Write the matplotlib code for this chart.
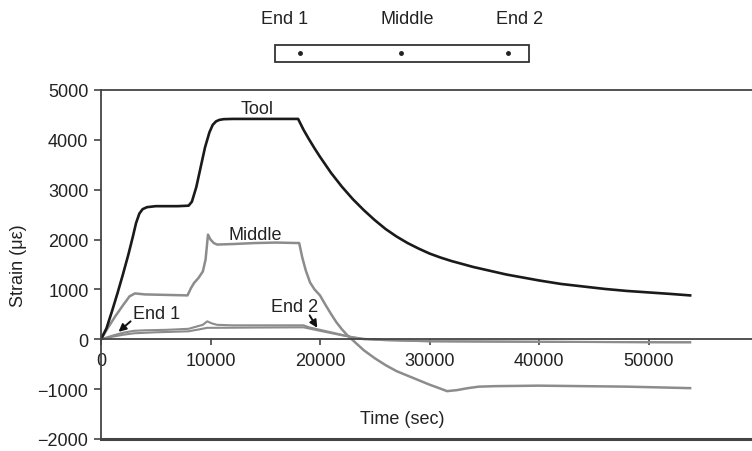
import matplotlib
matplotlib.use("Agg")
import matplotlib.pyplot as plt
from matplotlib.patches import Rectangle

plt.rcParams['font.family'] = ['Liberation Sans', 'DejaVu Sans']

# ---- data (time in sec, strain in micro-strain) ----
tool_t = [0, 500, 1000, 1500, 2000, 2500, 2900, 3200, 3500, 3800, 4200, 5000, 6000, 7000,
          8000, 8300, 8700, 9100, 9500, 9900, 10200, 10500, 10800, 11200, 12000, 14000,
          16000, 18000, 18500, 19000, 19500, 20000, 21000, 22000, 23000, 24000, 25000,
          26000, 27000, 28000, 29000, 30000, 31000, 32000, 33000, 34000, 35000, 36000,
          37000, 38000, 39000, 40000, 42000, 44000, 46000, 48000, 50000, 52000, 53800]
tool_s = [0, 220, 560, 920, 1300, 1700, 2050, 2330, 2520, 2610, 2650, 2670, 2670, 2670,
          2680, 2760, 3050, 3450, 3850, 4150, 4300, 4370, 4400, 4415, 4420, 4420,
          4420, 4420, 4200, 4010, 3830, 3660, 3340, 3060, 2810, 2590, 2390,
          2210, 2060, 1930, 1820, 1720, 1640, 1570, 1510, 1450, 1400, 1350,
          1300, 1260, 1220, 1180, 1110, 1060, 1010, 970, 940, 910, 880]

middle_t = [0, 600, 1300, 2000, 2600, 3100, 4000, 6000, 7900, 8200, 8500, 8900, 9300,
            9550, 9770, 10000, 10300, 10600, 12000, 14000, 16000, 18100, 18370, 18700,
            19090, 19500, 20000, 20500, 21000, 21500, 22000, 22500, 23000, 24000, 25000,
            26000, 27000, 28000, 29000, 30000, 31000, 31600, 32500, 33500, 34500, 36000,
            40000, 44000, 48000, 50000, 53800]
middle_s = [0, 220, 460, 680, 860, 920, 900, 890, 880, 1020, 1130, 1230, 1360,
            1600, 2100, 2000, 1930, 1900, 1910, 1930, 1940, 1930, 1650, 1380,
            1140, 1000, 880, 690, 510, 340, 200, 80, -20, -220, -380,
            -520, -640, -730, -820, -910, -990, -1040, -1020, -980, -950, -940,
            -930, -940, -950, -960, -980]

end1_t = [0, 1000, 2000, 3000, 5000, 8000, 9000, 9700, 10500, 14000, 18500, 20000,
          22000, 24000, 30000, 40000, 53800]
end1_s = [0, 50, 90, 120, 140, 160, 200, 230, 230, 235, 240, 170,
          80, 0, -40, -50, -60]

end2_t = [0, 1000, 2000, 3000, 4000, 6000, 8000, 8800, 9300, 9700, 10100, 10600, 12000,
          16000, 18500, 19000, 20000, 21000, 22000, 23000, 24000, 26000, 30000, 40000,
          50000, 53800]
end2_s = [0, 70, 130, 170, 180, 190, 210, 260, 290, 360, 320, 290, 280,
          280, 280, 240, 190, 140, 90, 40, 10, -20, -40, -50, -60, -60]

x_ticks = [0, 10000, 20000, 30000, 40000, 50000]
y_ticks = [-2000, -1000, 0, 1000, 2000, 3000, 4000, 5000]

dark = '#1a1a1a'
gray = '#8c8c8c'
axis_col = '#444444'
txt = '#222222'

fig = plt.figure(figsize=(7.52, 4.52), dpi=100)
ax = fig.add_axes([101 / 752, 1 - 440 / 452, 1 - 101 / 752, 349 / 452])

ax.plot(end1_t, end1_s, color=gray, lw=1.5)
ax.plot(end2_t, end2_s, color=gray, lw=1.5)
ax.plot(middle_t, middle_s, color=gray, lw=1.8)
ax.plot(tool_t, tool_s, color=dark, lw=1.9)

ax.set_xlim(0, 59450)
ax.set_ylim(-2000, 5000)
ax.set_xticks(x_ticks)
ax.set_yticks(y_ticks)
ax.set_yticklabels([str(v).replace('-', '\u2212') for v in y_ticks])

ax.spines['right'].set_visible(False)
ax.spines['bottom'].set_position(('data', 0))
for s in ['left', 'top', 'bottom']:
    ax.spines[s].set_color(axis_col)
    ax.spines[s].set_linewidth(1.3)
ax.axhline(-2000, color=axis_col, lw=2.2, clip_on=False)

ax.tick_params(axis='both', colors=axis_col, labelcolor=txt, labelsize=13, width=1.2)
ax.tick_params(axis='y', length=5, pad=4)
ax.tick_params(axis='x', length=4, pad=5)

ax.set_ylabel('Strain (\u03bc\u03b5)', fontsize=13, color=txt, labelpad=8)
fig.text(402 / 752, 1 - 420 / 452, 'Time (sec)', fontsize=13, ha='center', va='center',
         color=txt)

# curve labels and pointer arrows
ax.text(14250, 4620, 'Tool', fontsize=13, ha='center', va='center', color=txt)
ax.text(14060, 2100, 'Middle', fontsize=13, ha='center', va='center', color=txt)
ax.text(5100, 520, 'End 1', fontsize=13, ha='center', va='center', color=txt)
ax.text(17700, 660, 'End 2', fontsize=13, ha='center', va='center', color=txt)
arrow = dict(arrowstyle='-|>', color='#111111', lw=1.4, shrinkA=0, shrinkB=0,
             mutation_scale=11)
ax.annotate('', xy=(1600, 150), xytext=(2700, 360), arrowprops=arrow)
ax.annotate('', xy=(19750, 230), xytext=(19050, 480), arrowprops=arrow)

# sketch of the gauge positions above the chart
fig.patches.append(Rectangle((275 / 752, 1 - 63 / 452), 254 / 752, 17 / 452,
                             transform=fig.transFigure, fill=False,
                             edgecolor='#333333', lw=1.3))
for px in [300, 401, 508]:
    fig.lines.append(plt.Line2D([px / 752], [1 - 54 / 452], marker='o', ms=2.5,
                                color=txt, transform=fig.transFigure))
for px, lab in [(285, 'End 1'), (407, 'Middle'), (520, 'End 2')]:
    fig.text(px / 752, 1 - 20 / 452, lab, fontsize=13, ha='center', va='center',
             color=txt)

fig.savefig('out.png', dpi=100)
